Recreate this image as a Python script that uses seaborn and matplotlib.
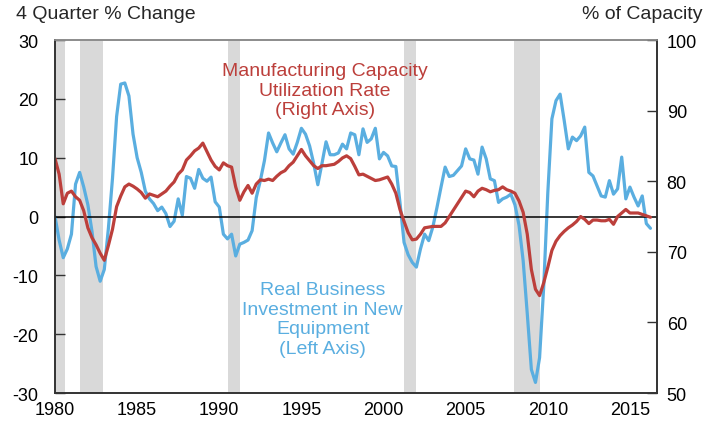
import numpy as np
import pandas as pd
import matplotlib
matplotlib.use("Agg")
import matplotlib.pyplot as plt
import seaborn as sns

# -----------------------------------------
# Data
# -----------------------------------------

# quarters 1980Q1 .. 2016Q2 as decimal years
quarters = np.arange(1980, 2016.5, 0.25)

# Real business investment in new equipment, 4 quarter % change (left axis)
equipment = [
    0.0, -4.0, -7.0, -5.5,
    -3.0, 5.5, 7.5, 5.0,
    2.0, -2.5, -8.5, -11.0,
    -9.0, -2.0, 6.5, 17.0,
    22.5, 22.7, 20.5, 14.0,
    10.0, 7.5, 4.3, 3.0,
    2.2, 1.0, 1.6, 0.5,
    -1.7, -0.8, 3.0, 0.2,
    6.8, 6.5, 4.8, 8.0,
    6.5, 6.0, 6.7, 2.5,
    1.6, -3.0, -3.8, -3.0,
    -6.7, -4.7, -4.4, -4.0,
    -2.4, 3.2, 6.1, 9.5,
    14.2, 12.5, 11.0, 12.5,
    13.9, 11.5, 10.6, 12.6,
    15.0, 14.0, 12.0, 9.0,
    5.4, 9.0, 12.7, 10.5,
    10.5, 10.8, 12.3, 11.5,
    14.2, 13.9, 10.5, 14.9,
    12.6, 13.2, 15.0, 9.8,
    10.9, 10.3, 8.6, 8.5,
    2.4, -4.4, -6.5, -7.8,
    -8.6, -5.5, -3.0, -4.1,
    -1.8, 1.5, 5.0, 8.4,
    6.8, 7.0, 7.8, 8.6,
    11.5, 9.8, 9.6, 7.2,
    11.8, 9.8, 6.4, 6.1,
    2.4, 3.0, 3.3, 3.8,
    2.0, -1.5, -7.5, -16.5,
    -26.0, -28.2, -24.0, -12.0,
    4.0, 16.6, 19.7, 20.8,
    16.3, 11.5, 13.5, 12.9,
    13.7, 15.2, 7.5, 6.9,
    5.2, 3.5, 3.3, 6.1,
    3.8, 4.7, 10.1, 3.0,
    5.0, 3.3, 1.8, 3.5,
    -1.2, -2.0,
]

# Manufacturing capacity utilization rate, % of capacity (right axis)
utilization = [
    83.2, 81.0, 76.8, 78.3,
    78.6, 77.8, 77.3, 75.8,
    73.4, 72.0, 71.0, 69.8,
    68.8, 70.9, 73.2, 76.4,
    77.9, 79.2, 79.6, 79.3,
    78.9, 78.4, 77.6, 78.2,
    78.0, 77.8, 78.2, 78.6,
    79.3, 79.9, 81.0, 81.6,
    83.0, 83.6, 84.3, 84.7,
    85.4, 84.2, 83.0, 82.1,
    81.6, 82.6, 82.2, 82.0,
    79.2, 77.3, 78.5, 79.4,
    78.3, 79.6, 80.2, 80.1,
    80.3, 80.1, 80.7, 81.2,
    81.5, 82.2, 82.7, 83.6,
    84.5, 83.6, 82.9, 82.2,
    81.8, 82.2, 82.2, 82.3,
    82.4, 82.8, 83.3, 83.6,
    83.2, 82.1, 80.9, 81.0,
    80.7, 80.4, 80.1, 80.2,
    80.4, 80.6, 79.6, 78.3,
    76.0, 74.3, 72.7, 71.7,
    71.8, 72.5, 73.4, 73.5,
    73.6, 73.6, 73.6, 74.1,
    75.0, 75.9, 76.8, 77.7,
    78.6, 78.4, 77.8, 78.6,
    79.0, 78.8, 78.5, 78.7,
    78.8, 79.2, 78.8, 78.6,
    78.3, 77.2, 75.6, 72.5,
    67.5, 64.7, 63.8, 65.6,
    67.8, 70.2, 71.5, 72.3,
    72.9, 73.4, 73.8, 74.3,
    75.0, 74.6, 74.0, 74.5,
    74.5, 74.4, 74.4, 74.6,
    73.9, 75.0, 75.5, 76.0,
    75.5, 75.5, 75.5, 75.3,
    75.1, 74.9,
]

# recession periods (shaded)
recession_start = [1980.0, 1981.55, 1990.55, 2001.22, 2007.95]
recession_end = [1980.58, 1982.93, 1991.25, 2001.95, 2009.52]

df = pd.DataFrame({
    "quarter": quarters,
    "equipment": equipment,
    "utilization": utilization,
})

# -----------------------------------------
# Style
# -----------------------------------------

sns.set_style("white")
plt.rcParams["font.family"] = ["Liberation Sans", "DejaVu Sans"]
plt.rcParams["axes.unicode_minus"] = False

blue = "#5aaee0"
red = "#bc3f3b"
spine_col = "#333333"

fig = plt.figure(figsize=(7.08, 4.31), dpi=100)
ax = fig.add_axes([0.0777, 0.0858, 0.8503, 0.8190])
ax2 = ax.twinx()

# recession shading
for s, e in zip(recession_start, recession_end):
    ax.axvspan(s, e, color="#d9d9d9", lw=0, zorder=0)

sns.lineplot(data=df, x="quarter", y="equipment", ax=ax,
             color=blue, linewidth=2.3, zorder=2)
ax.axhline(0, color="black", lw=1.1, zorder=3)
sns.lineplot(data=df, x="quarter", y="utilization", ax=ax2,
             color=red, linewidth=2.3)

# -----------------------------------------
# Axes
# -----------------------------------------

ax.set_xlim(1980, 2016.65)
ax.set_ylim(-30, 30)
ax2.set_ylim(50, 100)

ax.set_xticks(range(1980, 2016, 5))
ax.set_xticks(range(1980, 2017), minor=True)
ax.set_yticks(range(-30, 31, 10))
ax2.set_yticks(range(50, 101, 10))

ax.set_xlabel("")
ax.set_ylabel("")
ax2.set_xlabel("")
ax2.set_ylabel("")

ax.tick_params(axis="x", which="major", direction="in", length=7,
               width=1, pad=6, labelsize=13, colors=spine_col,
               labelcolor="black")
ax.tick_params(axis="x", which="minor", direction="in", length=4,
               width=1, colors=spine_col)
ax.tick_params(axis="y", direction="in", length=7, width=1, pad=12,
               labelsize=13, colors=spine_col, labelcolor="black")
ax2.tick_params(axis="y", direction="in", length=7, width=1, pad=7,
                labelsize=13, colors=spine_col, labelcolor="black")

for a in (ax, ax2):
    for side in ["left", "right", "bottom"]:
        a.spines[side].set_visible(True)
        a.spines[side].set_color(spine_col)
        a.spines[side].set_linewidth(1.2)
    a.spines["top"].set_visible(True)
    a.spines["top"].set_color("#8c8c8c")
    a.spines["top"].set_linewidth(1.2)

# -----------------------------------------
# Labels
# -----------------------------------------

ax.text(1996.43, 21.5, "Manufacturing Capacity\nUtilization Rate\n(Right Axis)",
        color=red, fontsize=14, ha="center", va="center",
        multialignment="center", linespacing=1.2)
ax.text(1996.3, -17.4, "Real Business\nInvestment in New\nEquipment\n(Left Axis)",
        color=blue, fontsize=14, ha="center", va="center",
        multialignment="center", linespacing=1.2)

fig.text(0.022, 0.967, "4 Quarter % Change", fontsize=14,
         ha="left", va="center")
fig.text(0.992, 0.967, "% of Capacity", fontsize=14,
         ha="right", va="center")

fig.savefig("out.png", dpi=100)
